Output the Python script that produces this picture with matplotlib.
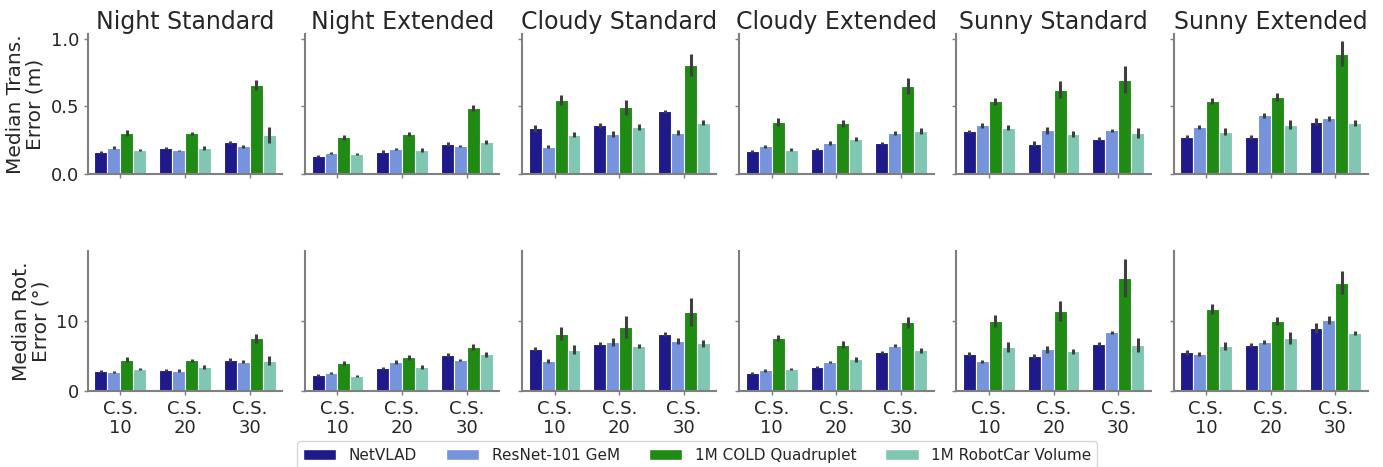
import numpy as np
import matplotlib
matplotlib.use("Agg")
import matplotlib.pyplot as plt
from matplotlib.patches import Patch

conditions = ["Night Standard", "Night Extended", "Cloudy Standard",
              "Cloudy Extended", "Sunny Standard", "Sunny Extended"]
spacings = ["C.S.\n10", "C.S.\n20", "C.S.\n30"]
methods = ["NetVLAD", "ResNet-101 GeM", "1M COLD Quadruplet", "1M RobotCar Volume"]
colors = ["#1f1a8a", "#7594db", "#1f8a14", "#7fc7b3"]

# median translation error (m), one row per condition, one column per spacing
netvlad_trans = [[0.165, 0.193, 0.235], [0.131, 0.166, 0.223], [0.339, 0.359, 0.463],
                 [0.173, 0.188, 0.230], [0.317, 0.225, 0.262], [0.277, 0.275, 0.388]]
resnet_trans = [[0.195, 0.175, 0.205], [0.158, 0.183, 0.210], [0.203, 0.295, 0.307],
                [0.205, 0.230, 0.300], [0.359, 0.322, 0.322], [0.347, 0.433, 0.411]]
cold_trans = [[0.300, 0.300, 0.660], [0.272, 0.297, 0.485], [0.545, 0.493, 0.807],
              [0.386, 0.374, 0.649], [0.537, 0.624, 0.698], [0.537, 0.567, 0.891]]
robotcar_trans = [[0.175, 0.193, 0.290], [0.149, 0.178, 0.240], [0.292, 0.347, 0.381],
                  [0.181, 0.262, 0.317], [0.344, 0.297, 0.304], [0.314, 0.366, 0.376]]

netvlad_trans_ci = [[0.008, 0.010, 0.010], [0.006, 0.008, 0.015], [0.025, 0.015, 0.012],
                    [0.008, 0.008, 0.010], [0.012, 0.017, 0.012], [0.010, 0.015, 0.025]]
resnet_trans_ci = [[0.010, 0.006, 0.010], [0.008, 0.008, 0.008], [0.010, 0.020, 0.015],
                   [0.010, 0.012, 0.015], [0.020, 0.027, 0.010], [0.015, 0.020, 0.020]]
cold_trans_ci = [[0.022, 0.012, 0.035], [0.018, 0.015, 0.022], [0.037, 0.055, 0.080],
                 [0.030, 0.025, 0.060], [0.027, 0.062, 0.100], [0.022, 0.030, 0.090]]
robotcar_trans_ci = [[0.008, 0.012, 0.060], [0.006, 0.012, 0.015], [0.020, 0.020, 0.015],
                     [0.012, 0.015, 0.020], [0.020, 0.020, 0.037], [0.025, 0.035, 0.020]]

# median rotation error (deg)
netvlad_rot = [[2.82, 2.97, 4.40], [2.24, 3.29, 5.10], [6.00, 6.71, 8.14],
               [2.52, 3.38, 5.48], [5.24, 4.95, 6.62], [5.52, 6.52, 8.95]]
resnet_rot = [[2.68, 2.87, 4.16], [2.57, 4.10, 4.38], [4.24, 6.95, 7.10],
              [2.95, 4.10, 6.43], [4.19, 5.90, 8.33], [5.24, 6.90, 10.10]]
cold_rot = [[4.40, 4.35, 7.51], [3.95, 4.81, 6.24], [8.14, 9.10, 11.24],
            [7.52, 6.57, 9.76], [9.95, 11.33, 16.05], [11.67, 9.90, 15.38]]
robotcar_rot = [[3.11, 3.44, 4.31], [2.14, 3.43, 5.19], [5.86, 6.33, 6.76],
                [3.05, 4.52, 5.76], [6.24, 5.62, 6.48], [6.38, 7.48, 8.24]]

netvlad_rot_ci = [[0.15, 0.15, 0.30], [0.15, 0.15, 0.25], [0.30, 0.25, 0.30],
                  [0.15, 0.15, 0.20], [0.25, 0.30, 0.30], [0.35, 0.35, 0.75]]
resnet_rot_ci = [[0.20, 0.20, 0.25], [0.15, 0.25, 0.20], [0.25, 0.50, 0.40],
                 [0.20, 0.20, 0.25], [0.25, 0.45, 0.20], [0.30, 0.30, 0.60]]
cold_rot_ci = [[0.35, 0.25, 0.65], [0.30, 0.35, 0.48], [0.95, 1.60, 2.00],
               [0.45, 0.50, 0.76], [0.90, 1.45, 2.70], [0.70, 0.60, 1.67]]
robotcar_rot_ci = [[0.15, 0.30, 0.60], [0.12, 0.30, 0.35], [0.60, 0.30, 0.50],
                   [0.15, 0.35, 0.40], [0.65, 0.40, 1.00], [0.55, 0.85, 0.30]]

trans = [netvlad_trans, resnet_trans, cold_trans, robotcar_trans]
trans_ci = [netvlad_trans_ci, resnet_trans_ci, cold_trans_ci, robotcar_trans_ci]
rot = [netvlad_rot, resnet_rot, cold_rot, robotcar_rot]
rot_ci = [netvlad_rot_ci, resnet_rot_ci, cold_rot_ci, robotcar_rot_ci]

plt.rcParams["font.family"] = "DejaVu Sans"
text_col = "#262626"
spine_col = "#7f7f7f"

fig, axes = plt.subplots(2, 6, figsize=(13.83, 4.67), dpi=100, sharey="row")
fig.subplots_adjust(left=0.0636, right=0.989, top=0.927, bottom=0.163,
                    wspace=0.118, hspace=0.55)

x = np.arange(len(spacings))
w = 0.2
rows = [(trans, trans_ci, "Median Trans.\nError (m)", (0, 1.035), [0, 0.5, 1.0]),
        (rot, rot_ci, "Median Rot.\nError (°)", (0, 19.9), [0, 10])]

for r, (vals, cis, ylab, ylim, yticks) in enumerate(rows):
    for c, cond in enumerate(conditions):
        ax = axes[r, c]
        for m in range(len(methods)):
            pos = x + (m - 1.5) * w
            ax.bar(pos, vals[m][c], width=w, color=colors[m],
                   edgecolor="white", linewidth=0.8, zorder=2)
            ax.errorbar(pos, vals[m][c], yerr=cis[m][c], fmt="none",
                        ecolor="#3f3f3f", elinewidth=2.2, capsize=0, zorder=3)
        ax.set_xlim(-0.5, 2.5)
        ax.set_ylim(*ylim)
        ax.set_yticks(yticks)
        ax.set_xticks(x)
        for s in ["top", "right"]:
            ax.spines[s].set_visible(False)
        for s in ["left", "bottom"]:
            ax.spines[s].set_color(spine_col)
            ax.spines[s].set_linewidth(1.5)
        ax.tick_params(colors=text_col, labelsize=13, length=3, width=1,
                       color=spine_col)
        if r == 0:
            ax.set_title(cond, fontsize=17, color=text_col, pad=4)
            ax.set_xticklabels([])
        else:
            ax.set_xticklabels(spacings, linespacing=1.1)
        if c == 0:
            ax.set_ylabel(ylab, fontsize=14.5, color=text_col, labelpad=4,
                          linespacing=1.05)
            if r == 0:
                ax.set_yticklabels(["0.0", "0.5", "1.0"])
        else:
            ax.tick_params(labelleft=False)

handles = [Patch(facecolor=col, edgecolor="white") for col in colors]
leg = fig.legend(handles, methods, loc="lower center", ncol=4,
                 bbox_to_anchor=(0.504, -0.02), fontsize=11, frameon=True,
                 handlelength=2.2, columnspacing=1.9)
leg.get_frame().set_edgecolor("#cccccc")
for t in leg.get_texts():
    t.set_color(text_col)

fig.savefig("out.png", dpi=100)
